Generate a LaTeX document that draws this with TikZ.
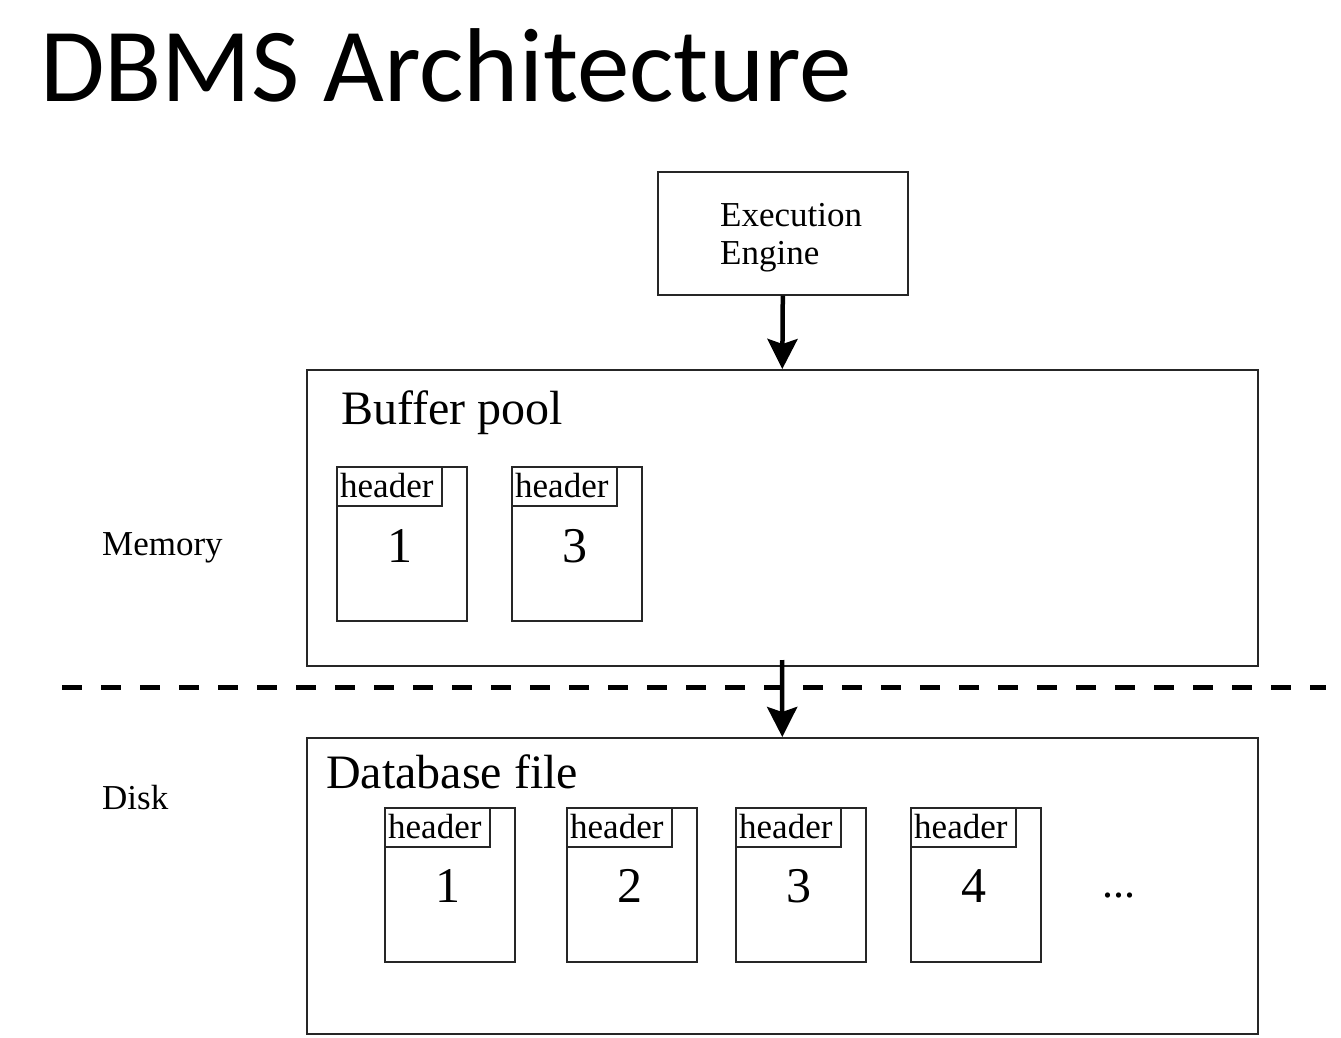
\documentclass[tikz,border=0pt]{standalone}
\usepackage{fontspec}
\setmainfont{Liberation Serif}
\newfontfamily\titlefont{Carlito}
\usetikzlibrary{arrows.meta}
\begin{document}
\begin{tikzpicture}[x=1pt,y=-1pt,
  box/.style={draw=black!85, line width=1.6pt, anchor=north west, inner sep=0pt},
  page/.style={box, minimum width=130pt, minimum height=154pt},
  hdr/.style={box, minimum width=105pt, minimum height=39pt},
  lbl/.style={anchor=base west, inner sep=0pt, font=\fontsize{35}{38}\selectfont},
  big/.style={anchor=base west, inner sep=0pt, font=\fontsize{48}{50}\selectfont},
  num/.style={anchor=base, inner sep=0pt, font=\fontsize{50}{52}\selectfont},
  arr/.style={line width=4.5pt, -{Stealth[width=30pt,length=30pt,inset=5pt]}},
]
\useasboundingbox (0,0) rectangle (1341,1038);
\fill[white] (0,0) rectangle (1341,1038);

% title
\node[anchor=base west, inner sep=0pt, font=\titlefont\fontsize{105}{110}\selectfont] (title) at (40,102) {DBMS Architecture};

% execution engine
\node[box, minimum width=250pt, minimum height=123pt] (exec) at (657,171) {};
\node[lbl] (ex1) at (720,226) {Execution};
\node[lbl] (ex2) at (720,264) {Engine};

% buffer pool
\node[box, minimum width=951pt, minimum height=296pt] (buf) at (306,369) {};
\node[big] (buft) at (341,424) {Buffer pool};

\node[page] (bp1) at (336,466) {};
\node[hdr] (bh1) at (336,466) {};
\node[lbl] (bht1) at (340,497) {header};
\node[num] (bn1) at (400,562) {1};

\node[page] (bp3) at (511,466) {};
\node[hdr] (bh3) at (511,466) {};
\node[lbl] (bht3) at (515,497) {header};
\node[num] (bn3) at (575,562) {3};

\node[lbl] (mem) at (102,555) {Memory};
\node[lbl] (disk) at (102,809) {Disk};

% dashed separator
\coordinate (dl) at (62,687);
\coordinate (dr) at (1326,687);
\draw[line width=5pt, dash pattern=on 20pt off 19pt] (dl) -- (dr);

% database file
\node[box, minimum width=951pt, minimum height=296pt] (db) at (306,737) {};
\node[big] (dbt) at (326,788) {Database file};

\foreach \x/\n/\k in {384/1/a, 566/2/b, 735/3/c, 910/4/d}{
  \node[page] (dp\k) at (\x,807) {};
  \node[hdr] (dh\k) at (\x,807) {};
  \node[lbl] (dht\k) at (\x+4,838) {header};
  \node[num] (dn\k) at (\x+64,902) {\n};
}
\node[anchor=base, inner sep=0pt, font=\fontsize{44}{46}\selectfont] (dots) at (1119,897) {...};

% arrows
\draw[arr] (exec.south) -- (buf.north);
\coordinate (a2) at (782,660);
\draw[arr] (a2) -- (db.north);
\end{tikzpicture}
\end{document}
